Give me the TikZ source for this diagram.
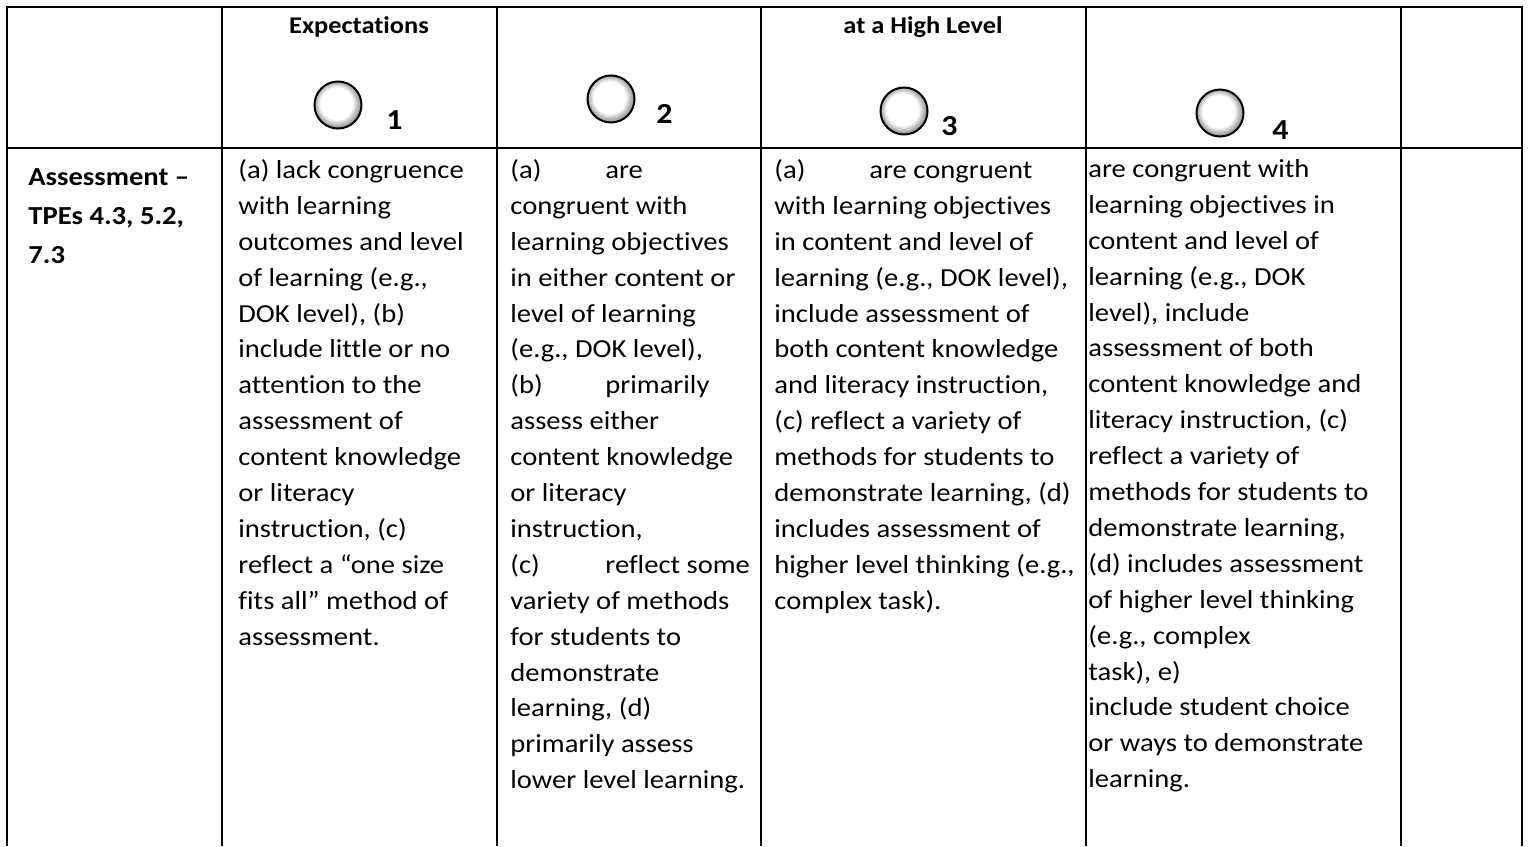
\documentclass[tikz,border=0pt]{standalone}
\usepackage{fontspec}
\setmainfont{Carlito}[FakeStretch=1.1, Ligatures={TeX,NoCommon}]
\usepackage{tikz}
\tikzset{rule/.style={line width=1pt},
  celltext/.style={anchor=north west, inner sep=0pt, align=left, font=\fontsize{13pt}{17.95pt}\selectfont, execute at begin node={\rule{0pt}{10pt}}},
  rowlabel/.style={anchor=north west, inner sep=0pt, align=left, font=\bfseries\fontsize{13pt}{19.5pt}\selectfont, execute at begin node={\rule{0pt}{10pt}}},
  headtext/.style={anchor=base, inner sep=0pt, font=\bfseries\fontsize{12pt}{13pt}\selectfont},
  levelnum/.style={anchor=base west, inner sep=0pt, font=\bfseries\fontsize{14.5pt}{16pt}\selectfont}}
\usetikzlibrary{shapes}
\newcommand{\ratingbutton}[1]{node[circle, draw, line width=1pt, minimum size=23.5pt, inner sep=0pt, shading=btnshade](#1) {}}
\newcommand{\tabto}[1]{\makebox[47.5pt][l]{#1}}
\definecolor{btnrim}{HTML}{9A9A9A}
\pgfdeclareradialshading{btnshade}{\pgfpoint{-2.5bp}{2.5bp}}{color(0bp)=(white); color(17bp)=(white); color(22bp)=(btnrim!70); color(25bp)=(btnrim); color(50bp)=(btnrim)}

\begin{document}
\begin{tikzpicture}[x=0.5pt, y=-0.5pt]
\useasboundingbox (0,0) rectangle (1530,846);
% table rules
\draw[rule] (7,846) -- (7,7) -- (1522,7) -- (1522,846);
\draw[rule] (7,148) -- (1522,148);
\foreach \cx in {222,497,761,1086,1401}
  \draw[rule] (\cx,7) -- (\cx,846);

% header row
\draw (359,33) node[headtext](head1) {Expectations} ;
\draw (923,33) node[headtext](head3) {at a High Level} ;
\draw (338,105) \ratingbutton{btn1} ;
\draw (386,129) node[levelnum](num1) {1} ;
\draw (611,99) \ratingbutton{btn2} ;
\draw (656,123) node[levelnum](num2) {2} ;
\draw (904,111) \ratingbutton{btn3} ;
\draw (941,135) node[levelnum](num3) {3} ;
\draw (1220,113) \ratingbutton{btn4} ;
\draw (1272,139) node[levelnum](num4) {4} ;

% assessment row (top = first baseline - 20)
\draw (28,168) node[rowlabel](label) {Assessment –\\TPEs 4.3, 5.2,\\7.3} ;
\draw (238,159) node[celltext](lvl1) {(a) lack congruence\\with learning\\outcomes and level\\of learning (e.g.,\\DOK level), (b)\\include little or no\\attention to the\\assessment of\\content knowledge\\or literacy\\instruction, (c)\\reflect a “one size\\fits all” method of\\assessment.} ;
\draw (510,159) node[celltext](lvl2) {\tabto{(a)}are\\congruent with\\learning objectives\\in either content or\\level of learning\\(e.g., DOK level),\\\tabto{(b)}primarily\\assess either\\content knowledge\\or literacy\\instruction,\\\tabto{(c)}reflect some\\variety of methods\\for students to\\demonstrate\\learning, (d)\\primarily assess\\lower level learning.} ;
\draw (774,159) node[celltext](lvl3) {\tabto{(a)}are congruent\\with learning objectives\\in content and level of\\learning (e.g., DOK level),\\include assessment of\\both content knowledge\\and literacy instruction,\\(c) reflect a variety of\\methods for students to\\demonstrate learning, (d)\\includes assessment of\\higher level thinking (e.g.,\\complex task).} ;
\draw (1088,159) node[celltext](lvl4) {are congruent with\\learning objectives in\\content and level of\\learning (e.g., DOK\\level), include\\assessment of both\\content knowledge and\\literacy instruction, (c)\\reflect a variety of\\methods for students to\\demonstrate learning,\\(d) includes assessment\\of higher level thinking\\(e.g., complex\\task), e)\\include student choice\\or ways to demonstrate\\learning.} ;
\end{tikzpicture}
\end{document}
